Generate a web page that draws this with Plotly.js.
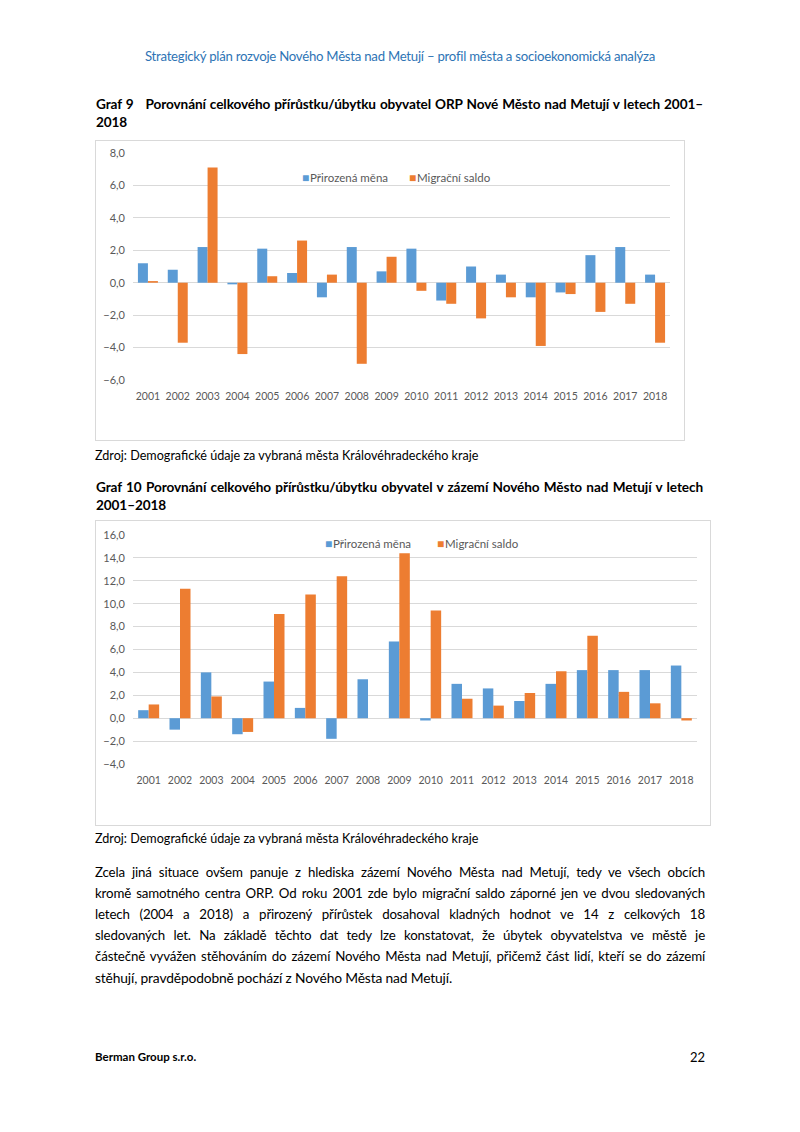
<!DOCTYPE html>
<html>
<head>
<meta charset="utf-8">
<script src="https://cdn.plot.ly/plotly-3.0.1.min.js"></script>
<style>
  html, body { margin: 0; padding: 0; background: #fff; }
  body { width: 800px; height: 1132px; position: relative; overflow: hidden; font-family: Lato, "Open Sans", sans-serif; color: #000; }
  .abs { position: absolute; white-space: nowrap; }
  .header { left: 0; width: 800px; top: 47px; text-align: center; font-size: 13.2px; line-height: 18px; color: #2e74b5; letter-spacing: -0.25px; }
  .title { left: 96px; font-size: 13.6px; font-weight: bold; line-height: 18px; letter-spacing: -0.1px; }
  .title.j { width: 607px; text-align: justify; text-align-last: justify; }
  .source { left: 95px; font-size: 12.6px; line-height: 16px; letter-spacing: 0px; }
  .chart { position: absolute; border: 1px solid #d9d9d9; box-sizing: border-box; }
  .para { position: absolute; left: 95px; width: 610px; font-size: 13.3px; line-height: 21px; letter-spacing: -0.15px; }
  .para div { text-align: justify; text-align-last: justify; white-space: nowrap; height: 21px; }
  .para div.last { text-align-last: left; font-size: 13.8px; }
  .footer { left: 95px; top: 1050px; font-size: 11.5px; font-weight: bold; line-height: 14px; }
  .pagenum { left: 690px; top: 1049px; font-size: 13px; line-height: 16px; }
</style>
</head>
<body>
<div class="abs header">Strategický plán rozvoje Nového Města nad Metují – profil města a socioekonomická analýza</div>

<div class="abs title j" style="top:95px;">Graf 9&nbsp;&nbsp; Porovnání celkového přírůstku/úbytku obyvatel ORP Nové Město nad Metují v letech 2001–</div>
<div class="abs title" style="top:113px;">2018</div>
<div class="chart" id="chart1" style="left:95px; top:140px; width:590px; height:301px;"></div>
<div class="abs source" style="top:448px;">Zdroj: Demografické údaje za vybraná města Královéhradeckého kraje</div>

<div class="abs title j" style="top:478px;">Graf 10 Porovnání celkového přírůstku/úbytku obyvatel v zázemí Nového Město nad Metují v letech</div>
<div class="abs title" style="top:496px;">2001–2018</div>
<div class="chart" id="chart2" style="left:95px; top:520px; width:616px; height:306px;"></div>
<div class="abs source" style="top:831px;">Zdroj: Demografické údaje za vybraná města Královéhradeckého kraje</div>

<div class="para" style="top:862px;">
  <div>Zcela jiná situace ovšem panuje z hlediska zázemí Nového Města nad Metují, tedy ve všech obcích</div>
  <div>kromě samotného centra ORP. Od roku 2001 zde bylo migrační saldo záporné jen ve dvou sledovaných</div>
  <div>letech (2004 a 2018) a přirozený přírůstek dosahoval kladných hodnot ve 14 z celkových 18</div>
  <div>sledovaných let. Na základě těchto dat tedy lze konstatovat, že úbytek obyvatelstva ve městě je</div>
  <div>částečně vyvážen stěhováním do zázemí Nového Města nad Metují, přičemž část lidí, kteří se do zázemí</div>
  <div class="last">stěhují, pravděpodobně pochází z Nového Města nad Metují.</div>
</div>

<div class="abs footer">Berman Group s.r.o.</div>
<div class="abs pagenum">22</div>

<script>
// ---- Data ----
var years = ['2001','2002','2003','2004','2005','2006','2007','2008','2009','2010','2011','2012','2013','2014','2015','2016','2017','2018'];
var seriesNames = ['Přirozená měna', 'Migrační saldo'];

// Graf 9 – ORP Nové Město nad Metují
var g9Natural   = [1.2, 0.8, 2.2, -0.1, 2.1, 0.6, -0.9, 2.2, 0.7, 2.1, -1.1, 1.0, 0.5, -0.9, -0.6, 1.7, 2.2, 0.5];
var g9Migration = [0.1, -3.7, 7.1, -4.4, 0.4, 2.6, 0.5, -5.0, 1.6, -0.5, -1.3, -2.2, -0.9, -3.9, -0.7, -1.8, -1.3, -3.7];

// Graf 10 – zázemí Nového Města nad Metují
var g10Natural   = [0.7, -1.0, 4.0, -1.4, 3.2, 0.9, -1.8, 3.4, 6.7, -0.2, 3.0, 2.6, 1.5, 3.0, 4.2, 4.2, 4.2, 4.6];
var g10Migration = [1.2, 11.3, 1.9, -1.2, 9.1, 10.8, 12.4, 0.0, 14.4, 9.4, 1.7, 1.1, 2.2, 4.1, 7.2, 2.3, 1.3, -0.2];

var g9Range = [-6, 8];
var g10Range = [-4, 16];

// ---- Styles ----
var BLUE = '#5b9bd5', ORANGE = '#ed7d31', GRID = '#d9d9d9', TXT = '#595959';
var FONT = 'Lato, "Open Sans", sans-serif';
var COLORS = [BLUE, ORANGE];

function makeChart(id, nat, mig, yr, size, margin, legendX, legendY) {
  var traces = [
    {type: 'bar', name: seriesNames[0], x: years, y: nat, marker: {color: BLUE}, hoverinfo: 'none'},
    {type: 'bar', name: seriesNames[1], x: years, y: mig, marker: {color: ORANGE}, hoverinfo: 'none'}
  ];
  var legendAnn = seriesNames.map(function (n, i) {
    return {xref: 'paper', yref: 'paper', x: legendX[i], y: legendY, xanchor: 'left', yanchor: 'middle',
            showarrow: false, align: 'left',
            text: '<span style="color:' + COLORS[i] + ';font-size:12px">■</span><span style="font-size:3px"> </span>' + n,
            font: {family: FONT, size: 11.5, color: TXT}};
  });
  var layout = {
    width: size[0], height: size[1],
    margin: margin,
    paper_bgcolor: 'rgba(0,0,0,0)', plot_bgcolor: 'rgba(0,0,0,0)',
    barmode: 'group', bargap: 0.33, bargroupgap: 0,
    font: {family: FONT, size: 10, color: TXT},
    showlegend: false,
    annotations: legendAnn,
    xaxis: {type: 'category', showgrid: false, zeroline: false, showline: false, ticks: '',
            tickfont: {family: FONT, size: 10.5, color: TXT}, ticklabelstandoff: 8, fixedrange: true},
    yaxis: {range: yr, dtick: 2, tick0: 0, tickformat: '.1f', showgrid: true, gridcolor: GRID, gridwidth: 1,
            zeroline: true, zerolinecolor: GRID, zerolinewidth: 1, showline: false, ticks: '',
            tickfont: {family: FONT, size: 11, color: TXT}, ticklabelstandoff: 7, fixedrange: true},
    separators: ', '
  };
  Plotly.newPlot(id, traces, layout, {staticPlot: true, displayModeBar: false});
}

makeChart('chart1', g9Natural, g9Migration, g9Range, [588, 299], {l: 37, r: 14, t: 12, b: 60}, [0.311, 0.510], 0.89);
makeChart('chart2', g10Natural, g10Migration, g10Range, [614, 304], {l: 37, r: 13, t: 14, b: 61}, [0.337, 0.535], 0.965);
</script>
</body>
</html>
